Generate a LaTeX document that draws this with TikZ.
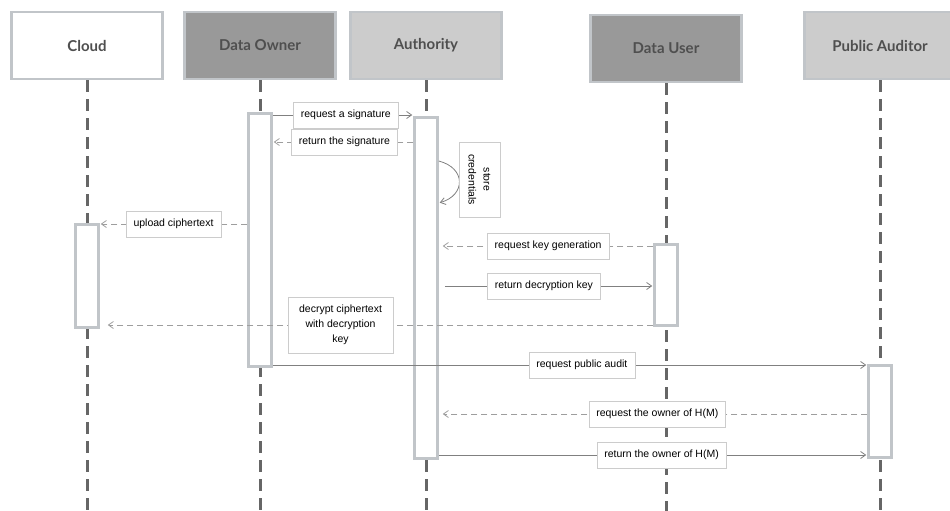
\documentclass[tikz,border=0pt]{standalone}
\usepackage{fontspec}
\setmainfont{Liberation Sans}
\newfontfamily\headfont{Lato}
\usetikzlibrary{arrows.meta}
\definecolor{rim}{HTML}{C1C5C9}
\definecolor{darkfill}{HTML}{999999}
\definecolor{lightfill}{HTML}{CCCCCC}
\definecolor{headtext}{HTML}{4F4F4F}
\definecolor{lifeline}{HTML}{666666}

\begin{document}
\begin{tikzpicture}[x=1pt,y=-1pt]
        \tikzstyle{actor}=[draw=rim, line width=2.5pt, minimum width=151pt, minimum height=67pt, text=headtext, font=\headfont\bfseries\fontsize{15}{18}\selectfont]
        \tikzstyle{life}=[lifeline, line width=3pt, dash pattern=on 12pt off 7pt]
        \tikzstyle{bar}=[draw=rim, fill=white, line width=2.5pt, minimum width=23pt]
        \tikzstyle{lbl}=[draw=lightfill, fill=white, solid, line width=0.6pt, inner xsep=7.5pt, minimum height=26pt, align=center, text=black, font=\fontsize{10.5}{15}\selectfont]
        \tikzstyle{call}=[draw=black!50, line width=0.8pt, -{Straight Barb[length=5pt,width=7pt]}, shorten >=1pt]
        \tikzstyle{reply}=[call, draw=black!38, dash pattern=on 6pt off 4pt]
        \useasboundingbox (0,0) rectangle (950,511);
        \foreach \name/\x/\y/\col/\txt in {cloud/87/45.5/white/Cloud, owner/260/45.5/darkfill/Data Owner, authority/426/45.5/lightfill/Authority, user/666/48.5/darkfill/Data User, auditor/880/45.5/lightfill/Public Auditor}
            \node[actor, fill=\col] (\name) at (\x,\y) {\txt};
        \foreach \name in {cloud, owner, authority, user, auditor}
            \draw[life] (\name.south) -- (\name.south |- 0,511);
        \node[bar, anchor=north, minimum height=103pt] (cloudbar) at (87,223) {};
        \node[bar, anchor=north, minimum height=253pt] (ownerbar) at (260,112) {};
        \node[bar, anchor=north, minimum height=341pt] (authbar) at (426,116) {};
        \node[bar, anchor=north, minimum height=81pt] (userbar) at (666,243) {};
        \node[bar, anchor=north, minimum height=92pt] (auditbar) at (880,364) {};
        % signature
        \draw[call] (ownerbar.east |- 0,115) -- node[lbl, pos=0.52] {request a signature} (authbar.west |- 0,115);
        \draw[reply] (authbar.west |- 0,142) -- node[lbl, pos=0.49] {return the signature} (ownerbar.east |- 0,142);
        \draw[call] (authbar.east |- 0,161) .. controls (466,168) and (466,195) .. (authbar.east |- 0,203);
        \node[lbl, rotate=-90, minimum width=75pt, minimum height=41pt, inner xsep=3pt] (store) at (479.5,179.5) {store\\credentials};
        % upload
        \draw[reply] (ownerbar.west |- 0,224) -- node[lbl, pos=0.5] {upload ciphertext} (cloudbar.east |- 0,224);
        % key
        \draw[reply, shorten >=4pt] (userbar.west |- 0,246) -- node[lbl, pos=0.49] {request key generation} (authbar.east |- 0,246);
        \draw[call, shorten <=6pt] (authbar.east |- 0,286) -- node[lbl, pos=0.49] {return decryption key} (userbar.west |- 0,286);
        \draw[reply, shorten >=8pt] (userbar.west |- 0,325) -- node[lbl, pos=0.565, minimum width=105pt, minimum height=56pt] {decrypt ciphertext\\with decryption\\key} (cloudbar.east |- 0,325);
        % audit
        \draw[call] (ownerbar.east |- 0,365) -- node[lbl, pos=0.52] {request public audit} (auditbar.west |- 0,365);
        \draw[reply, shorten >=4pt] (auditbar.west |- 0,414) -- node[lbl, pos=0.49] {request the owner of H(M)} (authbar.east |- 0,414);
        \draw[call] (authbar.east |- 0,455) -- node[lbl, pos=0.52] {return the owner of H(M)} (auditbar.west |- 0,455);
\end{tikzpicture}
\end{document}
